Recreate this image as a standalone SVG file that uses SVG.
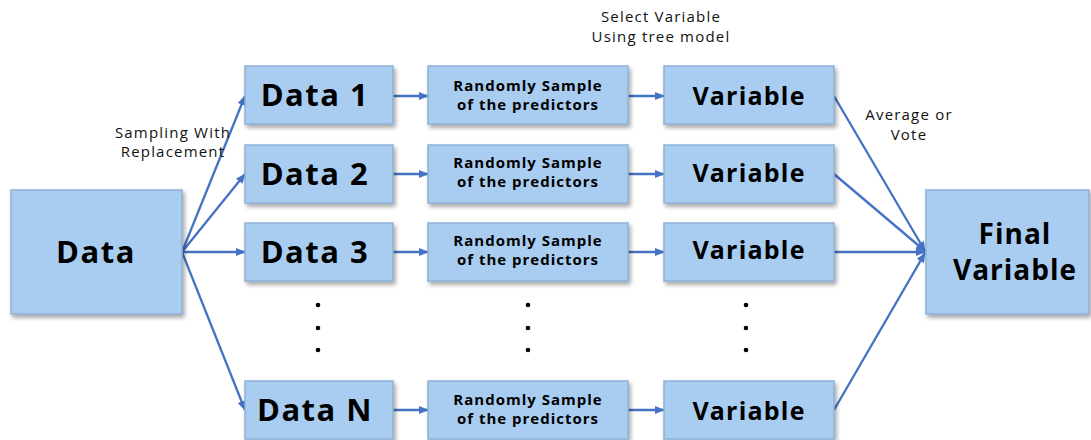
<svg xmlns="http://www.w3.org/2000/svg" width="1091" height="440" viewBox="0 0 1091 440">
<style>
.box{fill:#A9CDF1;stroke:#8DB0D6;stroke-width:1.5;filter:url(#sh)}
.t{font-family:"Open Sans","Noto Sans","DejaVu Sans",sans-serif;font-weight:bold;fill:#000;text-anchor:middle}
.big{font-size:31px;letter-spacing:1.5px}
.rs{font-size:15px;letter-spacing:1px}
.v{font-size:25px;letter-spacing:1.2px}
.lbl{font-family:"Open Sans","Noto Sans","DejaVu Sans",sans-serif;font-size:15px;letter-spacing:1.2px;fill:#111;text-anchor:middle}
.c{stroke:#4472C4;stroke-width:2.3;fill:none;marker-end:url(#ah)}
.dot{fill:#000}
</style>
<defs>
<filter id="sh" x="-10%" y="-10%" width="130%" height="130%">
<feDropShadow dx="2" dy="3" stdDeviation="2" flood-color="#000" flood-opacity="0.35"/>
</filter>
<marker id="ah" viewBox="0 0 10 10" refX="9" refY="5" markerWidth="4.5" markerHeight="4.5" orient="auto">
<path d="M0,1 L10,5 L0,9 z" fill="#4472C4"/>
</marker>
</defs>
<g id="connectors">
<line class="c" x1="182" y1="252" x2="245" y2="96"/>
<line class="c" x1="182" y1="252" x2="245" y2="174"/>
<line class="c" x1="182" y1="252" x2="245" y2="252"/>
<line class="c" x1="182" y1="252" x2="245" y2="410"/>
<line class="c" x1="393" y1="96" x2="428" y2="96"/>
<line class="c" x1="393" y1="174" x2="428" y2="174"/>
<line class="c" x1="393" y1="252" x2="428" y2="252"/>
<line class="c" x1="393" y1="410" x2="428" y2="410"/>
<line class="c" x1="628" y1="96" x2="664" y2="96"/>
<line class="c" x1="628" y1="174" x2="664" y2="174"/>
<line class="c" x1="628" y1="252" x2="664" y2="252"/>
<line class="c" x1="628" y1="410" x2="664" y2="410"/>
<line class="c" x1="834" y1="96" x2="925" y2="251"/>
<line class="c" x1="834" y1="174" x2="925" y2="251"/>
<line class="c" x1="834" y1="252" x2="925" y2="252"/>
<line class="c" x1="834" y1="410" x2="925" y2="253"/>
</g>
<g id="data"><rect class="box" x="11" y="190" width="171" height="124"/><text class="t big" x="96" y="263">Data</text></g>
<g id="data1"><rect class="box" x="245" y="66" width="148" height="58"/><text class="t big" x="315" y="106">Data 1</text></g>
<g id="data2"><rect class="box" x="245" y="145" width="148" height="58"/><text class="t big" x="315" y="185">Data 2</text></g>
<g id="data3"><rect class="box" x="245" y="223" width="148" height="58"/><text class="t big" x="315" y="263">Data 3</text></g>
<g id="dataN"><rect class="box" x="245" y="381" width="148" height="58"/><text class="t big" x="315" y="421">Data N</text></g>
<g id="rs1"><rect class="box" x="428" y="66" width="200" height="58"/><text class="t rs" x="528" y="91">Randomly Sample</text><text class="t rs" x="528" y="110">of the predictors</text></g>
<g id="rs2"><rect class="box" x="428" y="145" width="200" height="58"/><text class="t rs" x="528" y="168">Randomly Sample</text><text class="t rs" x="528" y="187">of the predictors</text></g>
<g id="rs3"><rect class="box" x="428" y="223" width="200" height="58"/><text class="t rs" x="528" y="246">Randomly Sample</text><text class="t rs" x="528" y="265">of the predictors</text></g>
<g id="rsN"><rect class="box" x="428" y="381" width="200" height="58"/><text class="t rs" x="528" y="405">Randomly Sample</text><text class="t rs" x="528" y="424">of the predictors</text></g>
<g id="var1"><rect class="box" x="664" y="66" width="170" height="58"/><text class="t v" x="749" y="105">Variable</text></g>
<g id="var2"><rect class="box" x="664" y="145" width="170" height="58"/><text class="t v" x="749" y="182">Variable</text></g>
<g id="var3"><rect class="box" x="664" y="223" width="170" height="58"/><text class="t v" x="749" y="259">Variable</text></g>
<g id="varN"><rect class="box" x="664" y="381" width="170" height="58"/><text class="t v" x="749" y="420">Variable</text></g>
<g id="final"><rect class="box" x="926" y="190" width="163" height="124"/><text class="t" x="1015" y="244" font-size="28" letter-spacing="1">Final</text><text class="t" x="1015" y="280" font-size="28" letter-spacing="1">Variable</text></g>
<g id="dots">
<circle class="dot" cx="318" cy="305" r="2.3"/><circle class="dot" cx="318" cy="328" r="2.3"/><circle class="dot" cx="318" cy="350" r="2.3"/>
<circle class="dot" cx="528" cy="305" r="2.3"/><circle class="dot" cx="528" cy="328" r="2.3"/><circle class="dot" cx="528" cy="350" r="2.3"/>
<circle class="dot" cx="746" cy="305" r="2.3"/><circle class="dot" cx="746" cy="328" r="2.3"/><circle class="dot" cx="746" cy="350" r="2.3"/>
</g>
<g id="labels">
<text class="lbl" x="173" y="138">Sampling With</text>
<text class="lbl" x="173" y="157">Replacement</text>
<text class="lbl" x="661" y="22">Select Variable</text>
<text class="lbl" x="661" y="42">Using tree model</text>
<text class="lbl" x="909" y="120">Average or</text>
<text class="lbl" x="909" y="140">Vote</text>
</g>
</svg>
